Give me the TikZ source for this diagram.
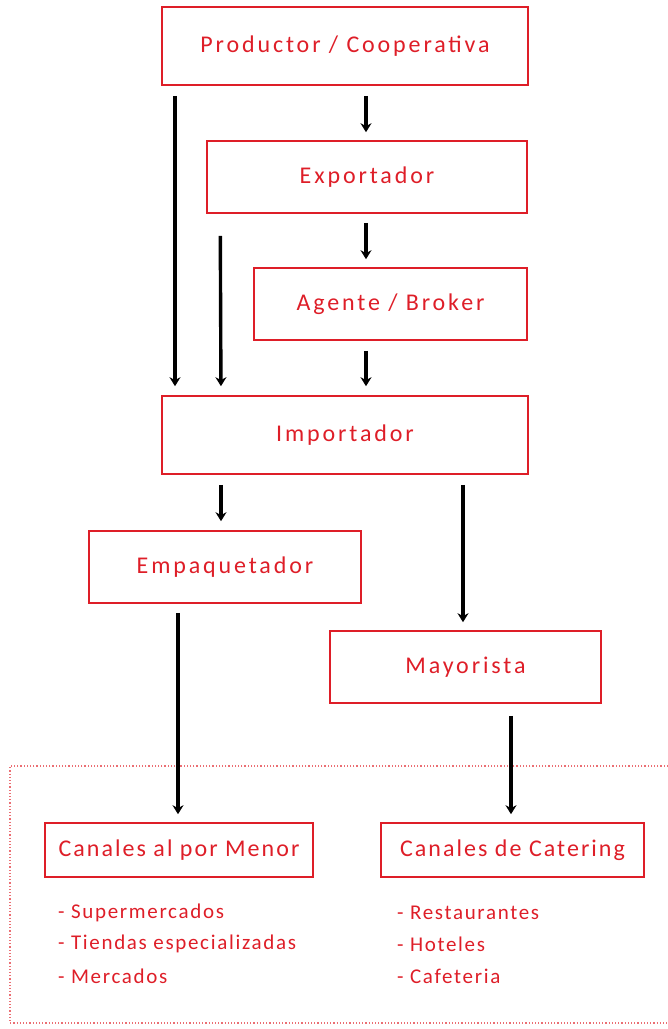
\documentclass[tikz,border=0pt]{standalone}
\usepackage{fontspec}
\setmainfont{Carlito}
\usetikzlibrary{arrows.meta}
\definecolor{rojo}{RGB}{222,30,40}
\definecolor{rojoclaro}{RGB}{235,110,115}
\tikzset{
  caja/.style={draw=rojo, line width=1.6pt, text=rojo, minimum height=72pt, inner sep=0pt,
    font=\fontsize{24}{27}\selectfont\addfontfeature{LetterSpace=12}},
  canal/.style={draw=rojo, line width=1.6pt, text=rojo, minimum height=54pt, inner sep=0pt,
    font=\fontsize{24}{27}\selectfont\addfontfeature{LetterSpace=8.5}},
  item/.style={text=rojo, anchor=west, inner sep=0pt,
    font=\fontsize{21}{24}\selectfont\addfontfeature{LetterSpace=8}},
  flecha/.style={draw=black, line width=3.4pt, -{Stealth[length=9pt,width=11pt]}},
  marco/.style={draw=rojoclaro, line width=1.2pt, dotted}
}
\begin{document}
\begin{tikzpicture}[x=1pt,y=-1pt]
\useasboundingbox (0,0) rectangle (668,1029);
\node[caja, minimum width=366pt, minimum height=78pt] (prod) at (345,46) {Productor / Cooperativa};
\node[caja, minimum width=320pt] (exp) at (367,177) {Exportador};
\node[caja, minimum width=273pt] (agent) at (390.5,304) {Agente / Broker};
\node[caja, minimum width=366pt, minimum height=78pt] (imp) at (345,435) {Importador};
\node[caja, minimum width=272pt] (emp) at (225,567) {Empaquetador};
\node[caja, minimum width=271pt] (may) at (465.5,667) {Mayorista};
\node[canal, minimum width=268pt] (menor) at (179,850) {Canales al por Menor};
\node[canal, minimum width=263pt] (cat) at (512.5,850) {Canales de Catering};

\node[item] (i1) at (58,913) {- Supermercados};
\node[item] (i2) at (58,944) {- Tiendas especializadas};
\node[item] (i3) at (58,976) {- Mercados};
\node[item] (j1) at (397,913) {- Restaurantes};
\node[item] (j2) at (397,944) {- Hoteles};
\node[item] (j3) at (397,976) {- Cafeteria};

\coordinate (m1) at (10,766);
\coordinate (m2) at (668,766);
\coordinate (m3) at (10,1023);
\coordinate (m4) at (668,1023);
\draw[marco] (m2) -- (m1) -- (m3) -- (m4);

\draw[flecha, shorten <=10pt, shorten >=9pt] ([xshift=-170pt]prod.south) -- ([xshift=-170pt]imp.north);
\draw[flecha, shorten <=22pt, shorten >=9pt] ([xshift=14pt]exp.south west) -- ([xshift=-124pt]imp.north);
\draw[flecha, shorten <=10pt, shorten >=8pt] ([xshift=21pt]prod.south) -- ([xshift=-1pt]exp.north);
\draw[flecha, shorten <=9pt, shorten >=8pt] ([xshift=-1pt]exp.south) -- ([xshift=-24.5pt]agent.north);
\draw[flecha, shorten <=10pt, shorten >=9pt] ([xshift=-24.5pt]agent.south) -- ([xshift=21pt]imp.north);
\draw[flecha, shorten <=10pt, shorten >=9pt] ([xshift=-124pt]imp.south) -- ([xshift=-4pt]emp.north);
\draw[flecha, shorten <=10pt, shorten >=8pt] ([xshift=118pt]imp.south) -- ([xshift=-2.5pt]may.north);
\draw[flecha, shorten <=9pt, shorten >=8pt] ([xshift=-47pt]emp.south) -- ([xshift=-1pt]menor.north);
\draw[flecha, shorten <=12pt, shorten >=8pt] ([xshift=45.5pt]may.south) -- ([xshift=-1.5pt]cat.north);
\end{tikzpicture}
\end{document}
